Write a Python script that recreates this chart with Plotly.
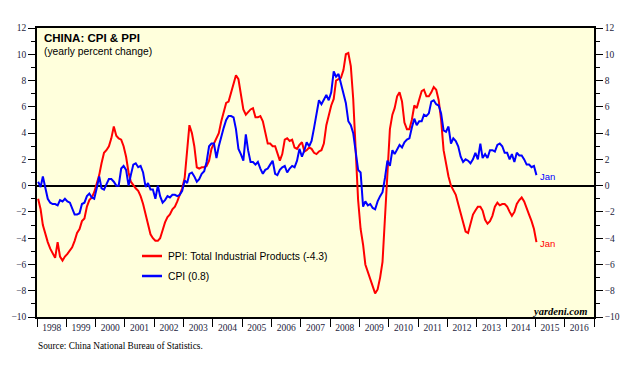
import pandas as pd
import plotly.graph_objects as go

# Monthly yearly % change, Jan 1998 .. Jan 2015
cpi = [
    0.3, -0.1, 0.7, -0.3, -1.0, -1.3, -1.4, -1.4, -1.5, -1.1, -1.2, -1.0,
    -1.2, -1.3, -1.8, -2.2, -2.2, -2.1, -1.4, -1.3, -0.8, -0.6, -0.9, -1.0,
    -0.2, 0.7, -0.2, -0.3, 0.1, 0.5, 0.5, 0.3, 0.0, 0.0, 1.3, 1.5,
    1.2, 0.0, 0.8, 1.6, 1.7, 1.4, 1.5, 1.0, -0.1, 0.2, -0.3, -0.3,
    -1.0, 0.0, -0.8, -1.3, -1.1, -0.8, -0.9, -0.7, -0.7, -0.8, -0.7, -0.4,
    0.4, 0.2, 0.9, 1.0, 0.7, 0.3, 0.5, 0.9, 1.1, 1.8, 3.0, 3.2,
    3.2, 2.1, 3.0, 3.8, 4.4, 5.0, 5.3, 5.3, 5.2, 4.3, 2.8, 2.4,
    1.9, 3.9, 2.7, 1.8, 1.8, 1.6, 1.8, 1.3, 0.9, 1.2, 1.3, 1.6,
    1.9, 0.9, 0.8, 1.2, 1.4, 1.5, 1.0, 1.3, 1.5, 1.4, 1.9, 2.8,
    2.2, 2.7, 3.3, 3.0, 3.4, 4.4, 5.6, 6.5, 6.2, 6.5, 6.9, 6.5,
    7.1, 8.7, 8.3, 8.5, 7.7, 7.1, 6.3, 4.9, 4.6, 4.0, 2.4, 1.2,
    1.0, -1.6, -1.2, -1.5, -1.4, -1.7, -1.8, -1.2, -0.8, -0.5, 0.6, 1.9,
    1.5, 2.7, 2.4, 2.8, 3.1, 2.9, 3.3, 3.5, 3.6, 4.4, 5.1, 4.6,
    4.9, 4.9, 5.4, 5.3, 5.5, 6.4, 6.5, 6.2, 6.1, 5.5, 4.2, 4.1,
    4.5, 3.2, 3.6, 3.4, 3.0, 2.2, 1.8, 2.0, 1.9, 1.7, 2.0, 2.5,
    2.0, 3.2, 2.1, 2.4, 2.1, 2.7, 2.7, 2.6, 3.1, 3.2, 3.0, 2.5,
    2.5, 2.0, 2.4, 1.8, 2.5, 2.3, 2.3, 2.0, 1.6, 1.6, 1.4, 1.5,
    0.8,
]

ppi = [
    -1.0, -1.8, -3.0, -3.7, -4.3, -4.8, -5.1, -5.5, -4.3, -5.4, -5.7, -5.4,
    -5.2, -4.9, -4.7, -4.2, -3.6, -3.3, -2.7, -2.5, -1.6, -1.1, -0.9, -0.5,
    0.1, 0.8, 1.7, 2.5, 2.7, 3.0, 3.6, 4.5, 3.8, 3.6, 3.5, 3.0,
    2.2, 1.0, 0.3, 0.0, -0.2, -0.4, -0.8, -1.4, -2.2, -3.0, -3.7, -4.0,
    -4.2, -4.2, -4.0, -3.4, -2.8, -2.4, -2.2, -1.8, -1.6, -1.2, -0.7, -0.2,
    0.6, 2.8, 4.6, 4.0, 3.0, 1.4, 1.3, 1.4, 1.4, 1.5, 1.9, 2.8,
    3.2, 3.6, 4.0, 4.9, 5.6, 6.3, 6.4, 7.1, 7.9, 8.4, 8.1, 7.1,
    5.8, 5.4, 5.6, 5.8, 5.9, 5.2, 5.2, 5.3, 4.9, 4.0, 3.2, 3.2,
    3.0, 3.0, 2.5, 1.9, 2.4, 3.5, 3.6, 3.4, 3.5, 2.9, 2.8, 3.1,
    3.3, 2.6, 2.7, 2.9, 2.8, 2.5, 2.4, 2.6, 2.7, 3.2, 4.6, 5.4,
    6.1, 6.6, 8.0, 8.1, 8.2, 8.8, 10.0, 10.1, 9.1, 6.6, 2.0, -1.1,
    -3.3, -4.5, -6.0, -6.6, -7.2, -7.8, -8.2, -7.9, -7.0, -5.8, -2.1, 1.7,
    4.3, 5.4, 5.9, 6.8, 7.1, 6.4, 4.8, 4.3, 4.3, 5.0, 6.1, 5.9,
    6.6, 7.2, 7.3, 6.8, 6.8, 7.1, 7.5, 7.3, 6.5, 5.0, 2.7, 1.7,
    0.7, 0.0, -0.3, -0.7, -1.4, -2.1, -2.9, -3.5, -3.6, -2.8, -2.2, -1.9,
    -1.6, -1.6, -1.9, -2.6, -2.9, -2.7, -2.3, -1.6, -1.3, -1.5, -1.4, -1.4,
    -1.6, -2.0, -2.3, -2.0, -1.4, -1.1, -0.9, -1.2, -1.8, -2.2, -2.7, -3.3,
    -4.3,
]

start_month = "1998-01-01"
dates = pd.date_range(start_month, periods=len(cpi), freq="MS") + pd.Timedelta(days=14)

ppi_name = "PPI: Total Industrial Products"
cpi_name = "CPI"
last_label = "Jan"
title = "CHINA: CPI & PPI"
subtitle = "(yearly percent change)"
source = "Source: China National Bureau of Statistics."
brand = "yardeni.com"

RED = "#FF0000"
BLUE = "#0000FF"
SERIF = "Liberation Serif, Times New Roman, serif"
SANS = "Liberation Sans, Arial, sans-serif"
TICKCOL = "#1c1c3c"

fig = go.Figure()
fig.add_trace(go.Scatter(x=dates, y=ppi, mode="lines", line=dict(color=RED, width=2),
                         name=ppi_name, showlegend=False, hoverinfo="skip"))
fig.add_trace(go.Scatter(x=dates, y=cpi, mode="lines", line=dict(color=BLUE, width=2),
                         name=cpi_name, showlegend=False, hoverinfo="skip"))
# invisible trace to activate right-hand axis
fig.add_trace(go.Scatter(x=[dates[0]], y=[0], yaxis="y2", mode="markers",
                         marker=dict(opacity=0), showlegend=False, hoverinfo="skip"))

# page body has an 8px default margin; compensate so the plot lands where intended
OFF = 8
W, H = 638 - OFF, 367 - OFF
L, R, T, B = 37 - OFF, 44, 28 - OFF, 50
pw, ph = W - L - R, H - T - B


def px(x):
    return (x - OFF - L) / pw


def py(y):
    return (H - B - (y - OFF)) / ph


yaxis_common = dict(
    range=[-10, 12], dtick=2, tick0=0, ticks="outside", ticklen=7, tickwidth=1.2,
    tickcolor="black", showline=True, linecolor="black", linewidth=1.5,
    showgrid=False, tickfont=dict(family=SERIF, size=9.5, color=TICKCOL),
    minor=dict(dtick=1, ticks="outside", ticklen=4, tickcolor="black", tickwidth=1),
    fixedrange=True,
)

fig.update_layout(
    width=W, height=H,
    margin=dict(l=L, r=R, t=T, b=B, autoexpand=False),
    paper_bgcolor="white",
    plot_bgcolor="#FFFFDC",
    showlegend=False,
    xaxis=dict(
        type="date", range=["1998-01-01", "2017-01-01"], dtick="M12", tick0="1998-01-01",
        ticklabelmode="period", tickformat="%Y", ticks="outside", ticklen=8, tickwidth=1.2,
        tickcolor="black", showline=True, linecolor="black", linewidth=1.5, mirror=True,
        showgrid=False, zeroline=False, ticklabelstandoff=-7,
        tickfont=dict(family=SERIF, size=9.5, color=TICKCOL),
    ),
    yaxis=dict(**yaxis_common, side="left", zeroline=True, zerolinecolor="black",
               zerolinewidth=1.5),
    yaxis2=dict(**yaxis_common, side="right", overlaying="y", zeroline=False),
)

# custom legend
legend_items = [(f"{ppi_name} ({ppi[-1]})", RED, 256), (f"{cpi_name} ({cpi[-1]})", BLUE, 276)]
for text, col, yy in legend_items:
    fig.add_shape(type="line", xref="paper", yref="paper", x0=px(142), x1=px(162),
                  y0=py(yy), y1=py(yy), line=dict(color=col, width=2.5))
    fig.add_annotation(xref="paper", yref="paper", x=px(166), y=py(yy), text=text,
                       showarrow=False, xanchor="left", yanchor="middle",
                       font=dict(family=SANS, size=10.3, color="black"))

# end-point labels
for series, col in [(cpi, BLUE), (ppi, RED)]:
    fig.add_annotation(x=dates[-1], y=series[-1], text=last_label, showarrow=False,
                       xanchor="left", yanchor="middle", xshift=2, yshift=-1,
                       font=dict(family=SANS, size=9.5, color=col))

fig.add_annotation(xref="paper", yref="paper", x=px(42), y=py(30), text=f"<b>{title}</b>",
                   showarrow=False, xanchor="left", yanchor="top",
                   font=dict(family=SANS, size=11.5, color="black"))
fig.add_annotation(xref="paper", yref="paper", x=px(42), y=py(44), text=subtitle,
                   showarrow=False, xanchor="left", yanchor="top",
                   font=dict(family=SANS, size=10.3, color="black"))
fig.add_annotation(xref="paper", yref="paper", x=px(589), y=py(311.5), text=f"<b><i>{brand}</i></b>",
                   showarrow=False, xanchor="right", yanchor="middle",
                   font=dict(family=SERIF, size=10.5, color="black"))
fig.add_annotation(xref="paper", yref="paper", x=px(36), y=py(346.5), text=source,
                   showarrow=False, xanchor="left", yanchor="middle",
                   font=dict(family=SERIF, size=9.3, color="black"))

fig.write_html("out.html")
